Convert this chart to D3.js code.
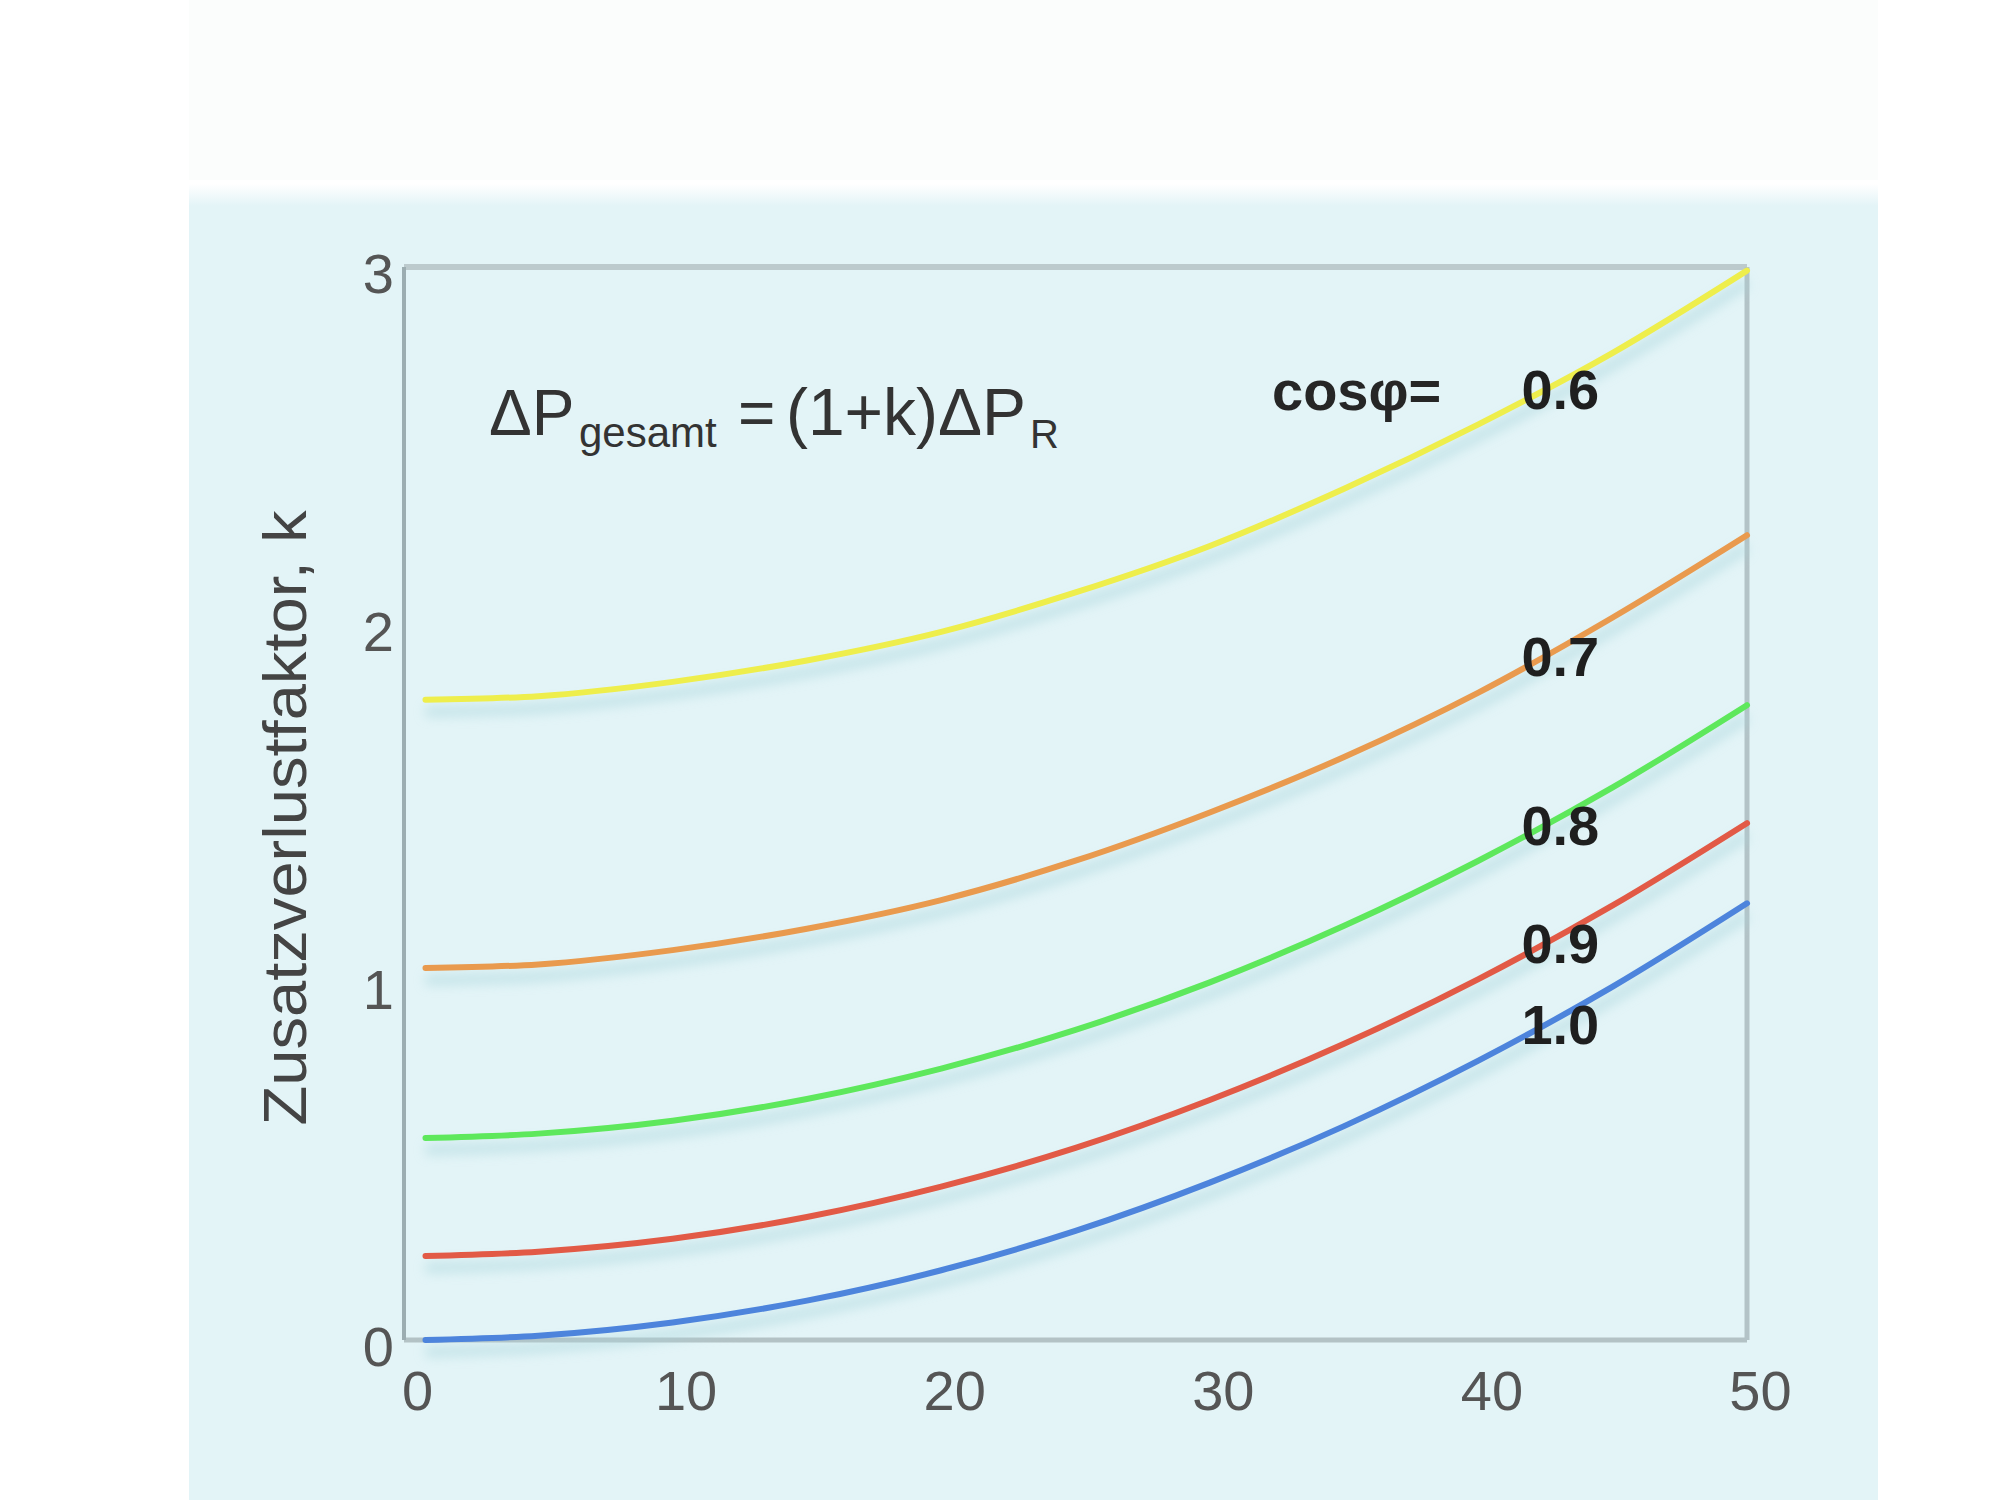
<!DOCTYPE html>
<html><head><meta charset="utf-8">
<script src="https://cdn.jsdelivr.net/npm/d3@7"></script>
<style>html,body{margin:0;padding:0;background:#fff}</style>
</head><body>
<svg id="c" width="2000" height="1500"></svg>
<script>
// Data
const xValues = [0.8, 5, 10, 15, 20, 25, 30, 35, 40, 45, 50];
const seriesNames = ["0.6", "0.7", "0.8", "0.9", "1.0"];
const k06 = [1.79, 1.80, 1.84, 1.90, 1.98, 2.09, 2.22, 2.38, 2.56, 2.76, 2.99];
const k07 = [1.04, 1.05, 1.09, 1.15, 1.23, 1.34, 1.475, 1.63, 1.81, 2.02, 2.25];
const k08 = [0.565, 0.577, 0.613, 0.674, 0.759, 0.867, 1.00, 1.158, 1.34, 1.545, 1.775];
const k09 = [0.235, 0.247, 0.283, 0.344, 0.429, 0.537, 0.671, 0.828, 1.009, 1.215, 1.445];
const k10 = [0, 0.012, 0.049, 0.110, 0.195, 0.305, 0.44, 0.598, 0.781, 0.988, 1.221];
const seriesValues = [k06, k07, k08, k09, k10];
const seriesColors = ["#eeee4c", "#e99a4e", "#5ee85c", "#e25a46", "#4d84dc"];
const xTicks = [0, 10, 20, 30, 40, 50];
const yTicks = [0, 1, 2, 3];
const yTitle = "Zusatzverlustfaktor, k";
const legendTitle = "cosφ=";
const labelAtX = 41.6;

const svg = d3.select("#c");
const W = 2000, H = 1500;
const font = "'Liberation Sans', Arial, Helvetica, sans-serif";

const defs = svg.append("defs");
const g1 = defs.append("linearGradient").attr("id", "panelGrad").attr("x1", 0).attr("y1", 0).attr("x2", 0).attr("y2", 1);
g1.append("stop").attr("offset", "0").attr("stop-color", "#ffffff");
g1.append("stop").attr("offset", "1").attr("stop-color", "#e3f4f7");
defs.append("filter").attr("id", "blur").attr("x", "-10%").attr("y", "-50%").attr("width", "120%").attr("height", "200%")
  .append("feGaussianBlur").attr("stdDeviation", 6);

// backgrounds
svg.append("rect").attr("x", 0).attr("y", 0).attr("width", W).attr("height", H).attr("fill", "#ffffff");
svg.append("rect").attr("x", 189).attr("y", 0).attr("width", 1689).attr("height", 180).attr("fill", "#fbfdfc");
svg.append("rect").attr("x", 189).attr("y", 205).attr("width", 1689).attr("height", H - 205).attr("fill", "#e3f4f7");
svg.append("rect").attr("x", 189).attr("y", 184).attr("width", 1689).attr("height", 22).attr("fill", "url(#panelGrad)");

const x = d3.scaleLinear().domain([0, 50]).range([404, 1747]);
const y = d3.scaleLinear().domain([0, 3]).range([1340, 267]);

// frame
const fr = svg.append("g");
fr.append("line").attr("x1", x(0)).attr("x2", x(50)).attr("y1", y(3)).attr("y2", y(3)).attr("stroke", "#bccacd").attr("stroke-width", 6);
fr.append("line").attr("x1", x(0)).attr("x2", x(50)).attr("y1", y(0)).attr("y2", y(0)).attr("stroke", "#b3c2c5").attr("stroke-width", 5);
fr.append("line").attr("x1", x(0)).attr("x2", x(0)).attr("y1", y(3)).attr("y2", y(0)).attr("stroke", "#9cadb1").attr("stroke-width", 4);
fr.append("line").attr("x1", x(50)).attr("x2", x(50)).attr("y1", y(3)).attr("y2", y(0)).attr("stroke", "#b3c3c7").attr("stroke-width", 5);

const line = d3.line().x((d, i) => x(xValues[i])).y(d => y(d)).curve(d3.curveMonotoneX);

// soft shadows under curves
svg.append("g").selectAll("path").data(seriesValues).join("path")
  .attr("d", line).attr("fill", "none").attr("stroke", "#a8d5db").attr("stroke-width", 10)
  .attr("opacity", 0.55).attr("transform", "translate(0,12)").attr("filter", "url(#blur)");

// curves
svg.append("g").selectAll("path").data(seriesValues).join("path")
  .attr("d", line).attr("fill", "none").attr("stroke", (d, i) => seriesColors[i])
  .attr("stroke-width", 6).attr("stroke-linecap", "round");

// axes (labels only)
const xAxis = svg.append("g").attr("transform", `translate(0,${y(0)})`)
  .call(d3.axisBottom(x).tickValues(xTicks).tickSize(0).tickPadding(0).tickFormat(d3.format("d")));
xAxis.select(".domain").remove();
xAxis.selectAll("text").attr("font-family", font).attr("font-size", 56).attr("fill", "#555")
  .attr("dx", 13).attr("dy", 0).attr("y", 70);

const yAxis = svg.append("g").attr("transform", `translate(${x(0)},0)`)
  .call(d3.axisLeft(y).tickValues(yTicks).tickSize(0).tickPadding(10).tickFormat(d3.format("d")));
yAxis.select(".domain").remove();
yAxis.selectAll("text").attr("font-family", font).attr("font-size", 56).attr("fill", "#555")
  .attr("dy", "0.32em").attr("transform", "translate(0,8)");

// y title
svg.append("text").attr("transform", "translate(284,818) rotate(-90)")
  .attr("text-anchor", "middle").attr("dominant-baseline", "central")
  .attr("font-family", font).attr("font-size", 62).attr("fill", "#444")
  .attr("textLength", 615).attr("lengthAdjust", "spacingAndGlyphs")
  .text(yTitle);

// formula
const f = svg.append("text").attr("font-family", font).attr("fill", "#333").attr("y", 435);
f.append("tspan").attr("x", 489).attr("font-size", 64).text("ΔP");
f.append("tspan").attr("x", 579).attr("y", 447).attr("font-size", 42).text("gesamt");
f.append("tspan").attr("x", 738).attr("y", 435).attr("font-size", 64).text("=");
f.append("tspan").attr("x", 786).attr("font-size", 66).attr("textLength", 240).attr("lengthAdjust", "spacingAndGlyphs").text("(1+k)ΔP");
f.append("tspan").attr("x", 1030).attr("y", 448).attr("font-size", 40).text("R");

// legend title
svg.append("text").attr("x", 1272).attr("y", 410).attr("font-family", font).attr("font-weight", "bold")
  .attr("font-size", 56).attr("fill", "#262626").text(legendTitle);

// curve labels
function valueAt(vals, xv) {
  const i = d3.bisectLeft(xValues, xv);
  const t = (xv - xValues[i - 1]) / (xValues[i] - xValues[i - 1]);
  return vals[i - 1] + t * (vals[i] - vals[i - 1]);
}
svg.append("g").selectAll("text").data(seriesNames).join("text")
  .attr("x", x(labelAtX)).attr("y", (d, i) => y(valueAt(seriesValues[i], labelAtX)) - 12)
  .attr("dominant-baseline", "central")
  .attr("font-family", font).attr("font-weight", "bold").attr("font-size", 56).attr("fill", "#1f1f1f")
  .text(d => d);
</script>
</body></html>
